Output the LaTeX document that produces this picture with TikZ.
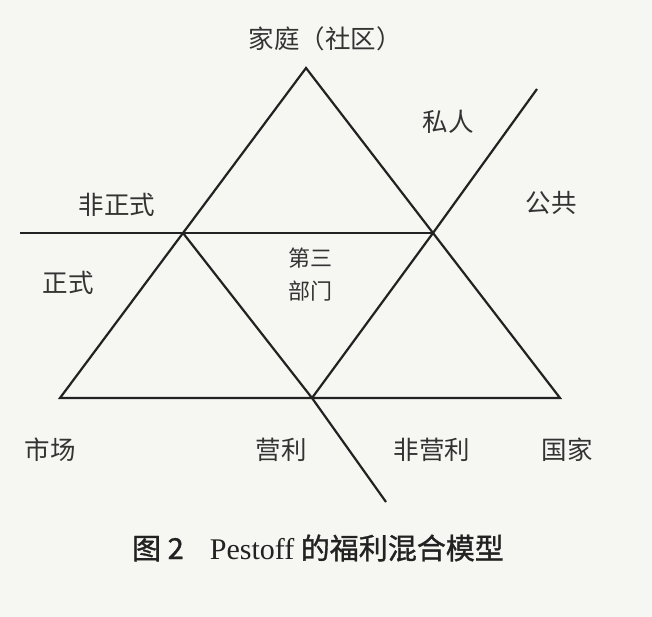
\documentclass[tikz,border=0pt]{standalone}
\usepackage{fontspec}
\newfontfamily\cjk{Noto Sans CJK SC}
\newfontfamily\cjkb[FakeBold=1.2]{Noto Sans CJK SC}
\newfontfamily\capser{Liberation Serif}
\definecolor{bg}{HTML}{F6F6F2}
\definecolor{ink}{HTML}{222222}
\definecolor{txt}{HTML}{333333}
\begin{document}
\begin{tikzpicture}[x=1pt,y=-1pt,
  edge/.style={draw=ink,line width=2.2pt,line join=miter},
  lbl/.style={text=txt,font=\cjk\fontsize{25.5}{28}\selectfont,inner sep=0pt},
  captext/.style={text=ink,font=\cjkb\fontsize{29}{32}\selectfont,inner sep=0pt}]
\fill[bg] (0,0) rectangle (652,617);
\useasboundingbox (0,0) rectangle (652,617);
\coordinate (A) at (306,68);
\coordinate (BL) at (60,398);
\coordinate (BR) at (560,398);
\coordinate (ML) at (183,233);
\coordinate (MR) at (433,233);
\coordinate (MB) at (312,398);
\coordinate (HL) at (20,233);
\coordinate (DT) at (537,89);
\coordinate (DB) at (386,502);
\draw[edge] (A) -- (BL) -- (BR) -- cycle;
\draw[edge] (HL) -- (MR);
\draw[edge] (DT) -- (MR) -- (MB);
\draw[edge] (ML) -- (MB) -- (DB);
\node[lbl] (jt) at (325,39) {家庭（社区）};
\node[lbl] (sr) at (448,122) {私人};
\node[lbl] (gg) at (551,203) {公共};
\node[lbl] (fzs) at (117,205) {非正式};
\node[lbl] (zs) at (68,283) {正式};
\node[lbl,font=\cjk\fontsize{22}{24}\selectfont] (ds) at (310,258) {第三};
\node[lbl,font=\cjk\fontsize{22}{24}\selectfont] (bm) at (310,291) {部门};
\node[lbl] (sc) at (50,450) {市场};
\node[lbl] (yl) at (281,450) {营利};
\node[lbl] (fyl) at (432,450) {非营利};
\node[lbl] (gj) at (567,450) {国家};
\node[captext] (caption) at (318,548) {图 2\hspace{0.9em}{\capser\fontsize{30}{32}\selectfont Pestoff} 的福利混合模型};
\end{tikzpicture}
\end{document}
